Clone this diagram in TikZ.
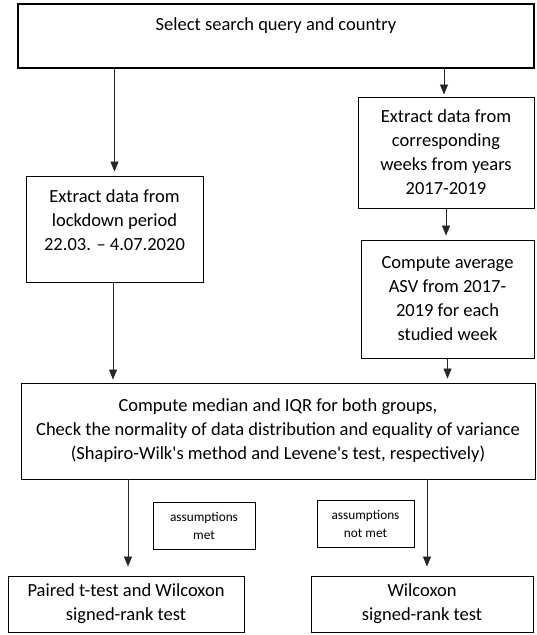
\documentclass[tikz,border=0pt]{standalone}
\usepackage{fontspec}
\setmainfont{Carlito}[Ligatures=TeXOff]
\usetikzlibrary{arrows.meta}
\begin{document}
\begin{tikzpicture}[x=1pt, y=-1pt,
		stage/.style={draw, line width=0.9pt, inner sep=0pt, align=center, font=\fontsize{18.5}{24}\selectfont},
		cond/.style={draw, line width=0.9pt, inner sep=0pt, align=center, font=\fontsize{13.3}{18}\selectfont},
		flow/.style={-{Triangle[width=8pt, length=10pt]}, line width=0.6pt, black!85}]
	\useasboundingbox (0, 0) rectangle (537, 635);
	\node[stage, line width=1.5pt, minimum width=516pt, minimum height=64pt] (query) at (276, 36) {Select search query and country\\ ~};
	\node[stage, minimum width=177pt, minimum height=106pt] (lockdown) at (114.5, 229) {Extract data from\\lockdown period\\22.03. – 4.07.2020\\[-6pt]~};
	\node[stage, minimum width=176pt, minimum height=111pt] (previous) at (446, 152.5) {Extract data from\\corresponding\\weeks from years\\2017-2019};
	\node[stage, minimum width=173pt, minimum height=118pt] (average) at (447.5, 299) {Compute average\\ASV from 2017-\\2019 for each\\studied week};
	\node[stage, minimum width=514pt, minimum height=96pt] (stats) at (278, 431) {Compute median and IQR for both groups,\\Check the normality of data distribution and equality of variance\\(Shapiro-Wilk's method and Levene's test, respectively)};
	\node[cond, minimum width=102pt, minimum height=47pt] (met) at (204, 525.5) {assumptions\\met};
	\node[cond, minimum width=97pt, minimum height=47pt] (notmet) at (365.5, 523.5) {assumptions\\not met};
	\node[stage, minimum width=236pt, minimum height=56pt] (ttest) at (126, 604) {Paired t-test and Wilcoxon\\signed-rank test};
	\node[stage, minimum width=222pt, minimum height=56pt] (wilcoxon) at (422, 604) {Wilcoxon\\signed-rank test};
	\draw[flow, shorten >=4pt] (query.south -| lockdown.north) -- (lockdown.north);
	\draw[flow, shorten >=2pt] ([xshift=-2pt]query.south -| previous.north) -- ([xshift=-2pt]previous.north);
	\draw[flow, shorten >=4pt] (previous.south) -- (previous.south |- average.north);
	\draw[flow, shorten >=3pt] ([xshift=-1.5pt]lockdown.south) -- ([xshift=-1.5pt]lockdown.south |- stats.north);
	\draw[flow, shorten >=4pt] (average.south) -- (average.south |- stats.north);
	\draw[flow, shorten >=9pt] ([xshift=2pt]stats.south -| ttest.north) -- ([xshift=2pt]ttest.north);
	\draw[flow, shorten >=9pt] ([xshift=5pt]stats.south -| wilcoxon.north) -- ([xshift=5pt]wilcoxon.north);
\end{tikzpicture}
\end{document}
